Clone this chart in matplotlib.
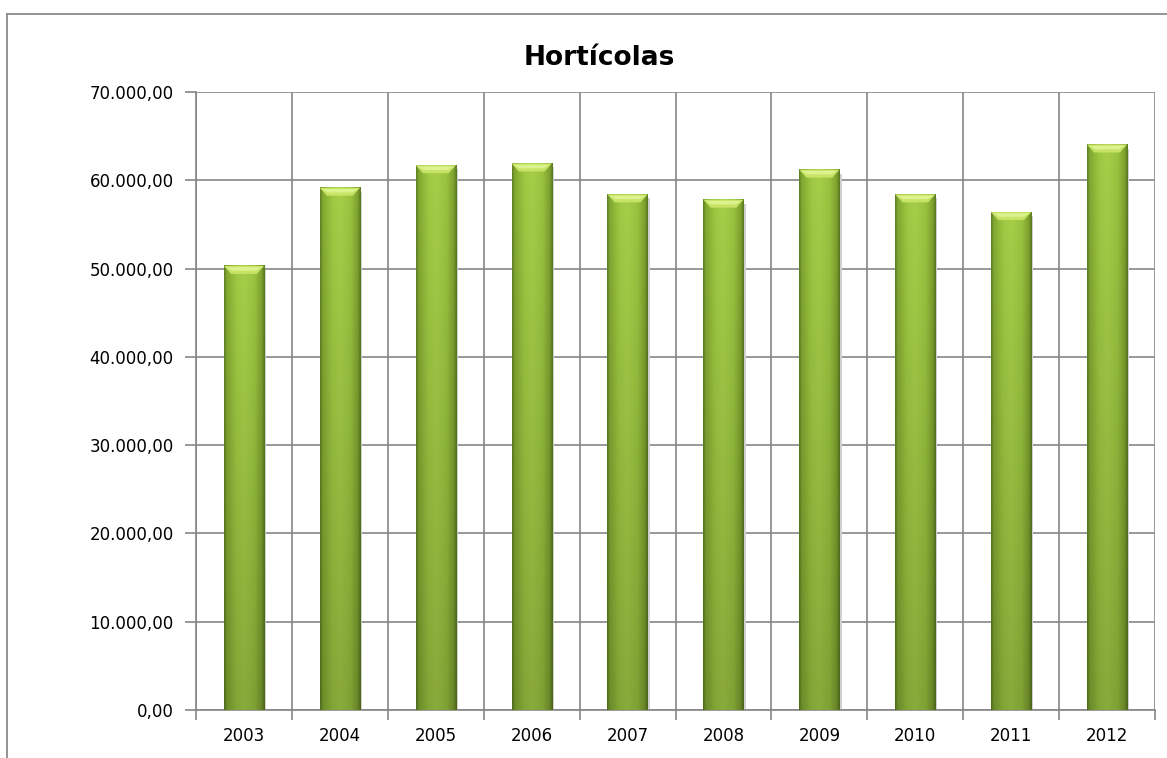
import numpy as np
import matplotlib
matplotlib.use("Agg")
import matplotlib.pyplot as plt
from matplotlib.patches import Rectangle, Polygon
from matplotlib.colors import LinearSegmentedColormap

years = ["2003", "2004", "2005", "2006", "2007", "2008", "2009", "2010", "2011", "2012"]
values = [50300, 59150, 61700, 61900, 58400, 57800, 61200, 58400, 56400, 64050]
yticks = [0, 10000, 20000, 30000, 40000, 50000, 60000, 70000]
title = "Hortícolas"

plt.rcParams['font.family'] = ['DejaVu Sans']

fig = plt.figure(figsize=(11.67, 7.58), dpi=100)
ax = fig.add_axes([196 / 1167, 48 / 758, (1155 - 196) / 1167, (710 - 92) / 758])

# outer chart frame (left and top edges visible)
fig.add_artist(plt.Line2D([7 / 1167, 7 / 1167], [0, 1 - 14 / 758], color="#8a8a8a", lw=1.3,
                          transform=fig.transFigure))
fig.add_artist(plt.Line2D([7 / 1167, 1], [1 - 14 / 758, 1 - 14 / 758], color="#8a8a8a", lw=1.3,
                          transform=fig.transFigure))

x = np.arange(len(years))
bars = ax.bar(x, values, width=0.42, color="#95bd3c", zorder=3)

# bar shading: darker edges, lighter middle, slightly darker toward the bottom
cmap_h = LinearSegmentedColormap.from_list(
    "h", [(0, "#5e7c22"), (0.06, "#7fa530"), (0.3, "#9cc441"), (0.5, "#a3ca47"),
          (0.75, "#97bf3e"), (0.93, "#7a9e2e"), (1, "#58751f")])
cap = 900
for b in bars:
    bx, bw, bh = b.get_x(), b.get_width(), b.get_height()
    cols = np.linspace(0, 1, 80)
    rows = np.linspace(0, 1, 200)[:, None]
    rgb = cmap_h(cols)[None, :, :3] * (0.84 + 0.18 * rows)[:, :, None]
    rgb = np.clip(rgb, 0, 1)
    ax.imshow(rgb, extent=(bx, bx + bw, 0, bh), origin="lower", aspect="auto",
              interpolation="bilinear", zorder=3)
    # bevelled light cap at the top
    ax.add_patch(Polygon([(bx, bh), (bx + bw, bh), (bx + bw * 0.82, bh - cap), (bx + bw * 0.18, bh - cap)],
                         closed=True, color="#c6e365", lw=0, zorder=4))
    ax.add_patch(Polygon([(bx + bw * 0.05, bh - cap * 0.15), (bx + bw * 0.95, bh - cap * 0.15),
                          (bx + bw * 0.8, bh - cap * 0.6), (bx + bw * 0.2, bh - cap * 0.6)],
                         closed=True, color="#dbf28e", lw=0, zorder=4))
    # soft shadow on the right
    ax.add_patch(Rectangle((bx + bw, 0), bw * 0.05, bh - cap * 0.5, color="#cfcfcf",
                           zorder=2, lw=0))

ax.set_xlim(-0.5, len(years) - 0.5)
ax.set_ylim(0, 70000)
ax.set_yticks(yticks)
ax.set_yticklabels([f"{v:,.2f}".replace(",", "X").replace(".", ",").replace("X", ".") for v in yticks],
                   fontsize=12)
ax.set_xticks(x)
ax.set_xticklabels(years, fontsize=12)
ax.set_xticks(np.arange(-0.5, len(years)), minor=True)
ax.tick_params(axis="x", which="major", length=0, pad=12)
ax.tick_params(axis="x", which="minor", length=7, color="#868686", width=1.2)
ax.tick_params(axis="y", length=8, color="#868686", width=1.2, pad=8)

ax.grid(axis="y", color="#868686", lw=1.2, zorder=1)
ax.grid(axis="x", which="minor", color="#868686", lw=1.2, zorder=1)
for s in ["top", "right"]:
    ax.spines[s].set_visible(False)
for s in ["left", "bottom"]:
    ax.spines[s].set_color("#868686")
    ax.spines[s].set_linewidth(1.2)
ax.set_axisbelow(True)

fig.text(599 / 1167, 1 - 58 / 758, title, ha="center", va="center", fontsize=19, fontweight="bold")

fig.savefig("out.png", dpi=100)
